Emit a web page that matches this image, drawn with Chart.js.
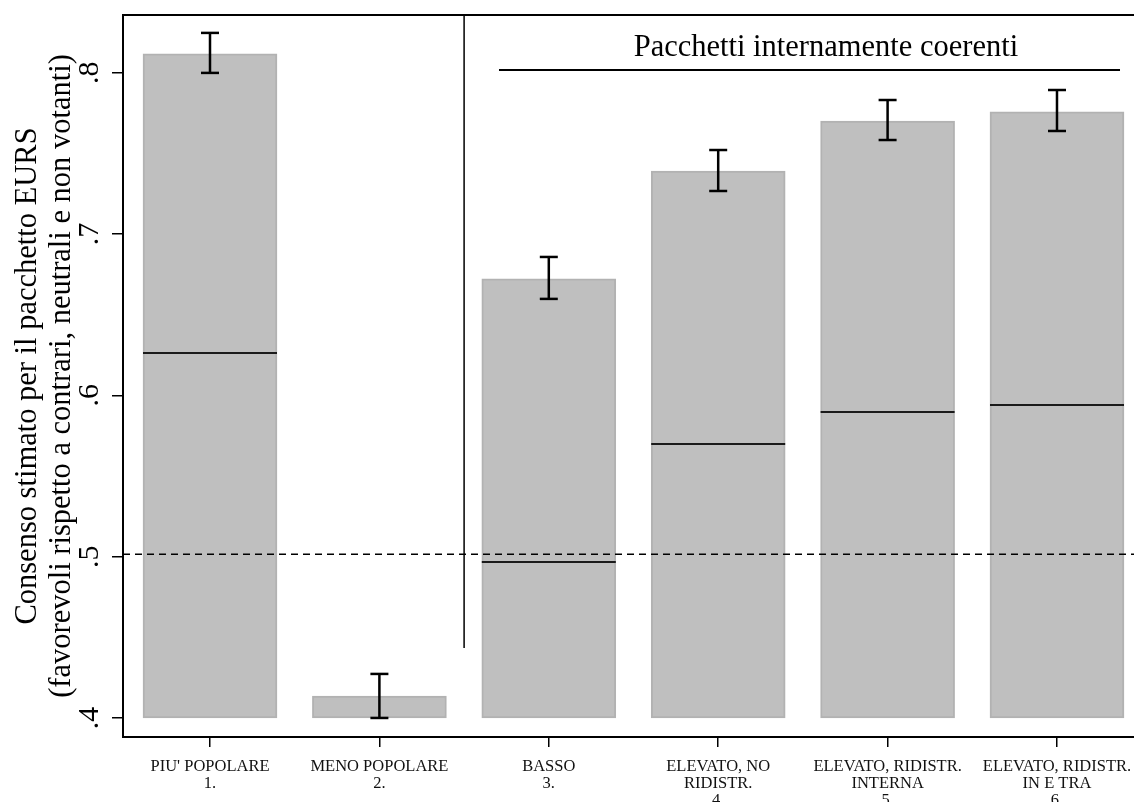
<!DOCTYPE html>
<html>
<head>
<meta charset="utf-8">
<script src="https://cdn.jsdelivr.net/npm/chart.js@4.4.1/dist/chart.umd.min.js"></script>
<style>
  html, body { margin: 0; padding: 0; background: #fff; overflow: hidden; }
  canvas { display: block; }
</style>
</head>
<body>
<canvas id="c" width="1134" height="802" style="width:1134px;height:802px"></canvas>
<script>
// ---- data ----
const categories = [
  ["PIU' POPOLARE", "1."],
  ["MENO POPOLARE", "2."],
  ["BASSO", "3."],
  ["ELEVATO, NO", "RIDISTR.", "4."],
  ["ELEVATO, RIDISTR.", "INTERNA", "5."],
  ["ELEVATO, RIDISTR.", "IN E TRA", "6."]
];
const barBase = 0.4;
const barValues = [0.8117, 0.4136, 0.6722, 0.7391, 0.7701, 0.7757];
const ciLow  = [0.7999, 0.4000, 0.6598, 0.7267, 0.7583, 0.7639];
const ciHigh = [0.8247, 0.4273, 0.6858, 0.7521, 0.7831, 0.7893];
const innerLines = [0.6263, null, 0.4967, 0.5699, 0.5897, 0.5940];
const refLineValue = 0.5015;
const separatorX = 2.5;
const separatorBottom = 0.4434;
const groupLineX = [2.706, 6.372];
const groupLineY = 0.8017;
const groupLabel = "Pacchetti internamente coerenti";
const groupLabelPos = [4.636, 0.8104];
const yTickValues = [0.4, 0.5, 0.6, 0.7, 0.8];
const yTickLabels = [".4", ".5", ".6", ".7", ".8"];
const yTitle = ["Consenso stimato per il pacchetto EURS", "(favorevoli rispetto a contrari, neutrali e non votanti)"];

// ---- scale ranges / styles ----
const X_MIN = 0.4864, X_MAX = 6.4546;
const Y_MIN = 0.3882, Y_MAX = 0.8358;
const BAR_PX = 134;
const HALF_BAR = 0.3955; // half bar width in category units
const SERIF = '"Liberation Serif", "Times New Roman", serif';

const barData = barValues.map((v, i) => ({ x: i + 1, y: [barBase, v] }));

const innerData = [];
innerLines.forEach((v, i) => {
  if (v === null) return;
  innerData.push({ x: i + 1 - HALF_BAR, y: v }, { x: i + 1 + HALF_BAR, y: v }, { x: i + 1.5, y: null });
});

const errData = [];
ciLow.forEach((lo, i) => {
  errData.push({ x: i + 1, y: lo }, { x: i + 1, y: ciHigh[i] }, { x: i + 1.5, y: null });
});
const capData = [];
ciLow.forEach((lo, i) => {
  capData.push({ x: i + 1, y: lo }, { x: i + 1, y: ciHigh[i] });
});

const lineStyle = (w, extra) => Object.assign({
  type: 'line', borderColor: '#000', borderWidth: w, pointRadius: 0,
  spanGaps: false, fill: false, order: 1, xAxisID: 'x', yAxisID: 'y'
}, extra || {});

const zeroPad = (s) => { s.paddingTop = 0; s.paddingBottom = 0; s.paddingLeft = 0; s.paddingRight = 0; };

const groupLabelPlugin = {
  id: 'groupLabel',
  afterDatasetsDraw(chart) {
    const { ctx, scales: { x, y } } = chart;
    ctx.save();
    ctx.font = '30.5px ' + SERIF;
    ctx.fillStyle = '#000';
    ctx.textAlign = 'center';
    ctx.textBaseline = 'alphabetic';
    ctx.fillText(groupLabel, x.getPixelForValue(groupLabelPos[0]), y.getPixelForValue(groupLabelPos[1]));
    ctx.restore();
  }
};

new Chart(document.getElementById('c'), {
  type: 'bar',
  data: {
    datasets: [
      {
        type: 'bar', data: barData, backgroundColor: '#bfbfbf', borderColor: '#b2b2b2',
        borderWidth: 2, borderSkipped: false, barThickness: BAR_PX, order: 10
      },
      lineStyle(2, { data: innerData, borderColor: '#1a1a1a' }),
      lineStyle(2.5, { data: errData }),
      lineStyle(2.5, { data: capData, showLine: false, pointStyle: 'line', pointRadius: 9,
        pointBorderWidth: 2.5, pointBorderColor: '#000' }),
      lineStyle(1.5, { data: [{ x: X_MIN, y: refLineValue }, { x: X_MAX, y: refLineValue }], borderDash: [7, 5] }),
      lineStyle(1.5, { data: [{ x: separatorX, y: Y_MAX }, { x: separatorX, y: separatorBottom }] }),
      lineStyle(2, { data: [{ x: groupLineX[0], y: groupLineY }, { x: groupLineX[1], y: groupLineY }] })
    ]
  },
  options: {
    responsive: false,
    maintainAspectRatio: false,
    devicePixelRatio: 1,
    animation: false,
    layout: { autoPadding: false, padding: { top: 15, right: 0, bottom: 0, left: 0 } },
    plugins: { legend: { display: false }, tooltip: { enabled: false } },
    scales: {
      x: {
        type: 'linear', position: 'bottom', min: X_MIN, max: X_MAX, offset: false,
        afterBuildTicks(s) { s.ticks = categories.map((_, i) => ({ value: i + 1 })); },
        afterFit(s) { s.height = 65; zeroPad(s); },
        grid: { display: true, drawOnChartArea: false, drawTicks: true, tickLength: 10, color: '#000', lineWidth: 1.5, offset: false },
        border: { display: true, color: '#000', width: 2 },
        ticks: {
          autoSkip: false, maxRotation: 0, minRotation: 0, padding: 11, color: '#111',
          font: { family: SERIF, size: 16.5, lineHeight: '17px' },
          callback: (v) => categories[Math.round(v) - 1]
        }
      },
      x2: {
        type: 'linear', position: 'top', min: X_MIN, max: X_MAX, display: true,
        grid: { display: false }, ticks: { display: false },
        border: { display: true, color: '#000', width: 2 },
        afterFit(s) { s.height = 0; zeroPad(s); }
      },
      y: {
        type: 'linear', position: 'left', min: Y_MIN, max: Y_MAX, beginAtZero: false,
        afterBuildTicks(s) { s.ticks = yTickValues.map(v => ({ value: v })); },
        afterFit(s) { s.width = 123; zeroPad(s); },
        grid: { display: true, drawOnChartArea: false, drawTicks: true, tickLength: 11, color: '#000', lineWidth: 1.5 },
        border: { display: true, color: '#000', width: 2 },
        ticks: {
          minRotation: 90, maxRotation: 90, crossAlign: 'center', padding: 11, color: '#000',
          font: { family: SERIF, size: 30 },
          callback: (v, i) => yTickLabels[i]
        },
        title: {
          display: true, text: yTitle, color: '#000',
          font: { family: SERIF, size: 30.5, lineHeight: '34px' },
          padding: { top: 11, bottom: 0 }
        }
      }
    }
  },
  plugins: [groupLabelPlugin]
});
</script>
</body>
</html>
